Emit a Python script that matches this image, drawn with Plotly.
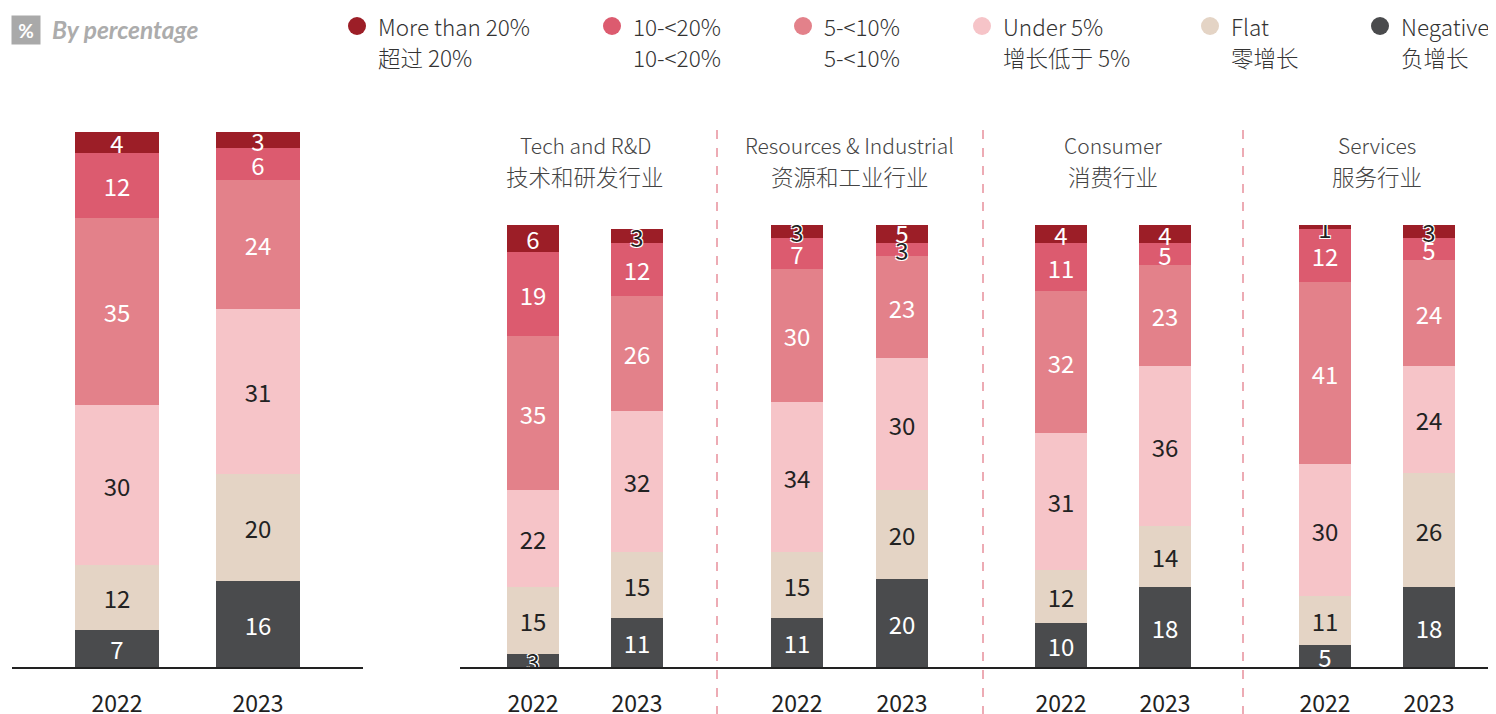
import plotly.graph_objects as go

# the page body adds an 8px margin, so coordinates below are screen pixels
OFF = 8
W, H = 1496 - OFF, 714 - OFF
FONT = "Noto Sans CJK SC"

years = ["2022", "2023"]

series_en = ["More than 20%", "10-<20%", "5-<10%", "Under 5%", "Flat", "Negative"]
series_cn = ["超过 20%", "10-<20%", "5-<10%", "增长低于 5%", "零增长", "负增长"]
series_colors = ["#9C1E27", "#DC5B6F", "#E3818A", "#F6C4C8", "#E4D4C5", "#4A4B4D"]
series_textcolors = ["white", "white", "white", "#222222", "#222222", "white"]

# overall, [2022, 2023] per growth band
overall_gt20 = [4, 3]
overall_10_20 = [12, 6]
overall_5_10 = [35, 24]
overall_under5 = [30, 31]
overall_flat = [12, 20]
overall_neg = [7, 16]

sectors_en = ["Tech and R&D", "Resources & Industrial", "Consumer", "Services"]
sectors_cn = ["技术和研发行业", "资源和工业行业", "消费行业", "服务行业"]

# per sector [2022, 2023]
sector_gt20 = [[6, 3], [3, 5], [4, 4], [1, 3]]
sector_10_20 = [[19, 12], [7, 3], [11, 5], [12, 5]]
sector_5_10 = [[35, 26], [30, 23], [32, 23], [41, 24]]
sector_under5 = [[22, 32], [34, 30], [31, 36], [30, 24]]
sector_flat = [[15, 15], [15, 20], [12, 14], [11, 26]]
sector_neg = [[3, 11], [11, 20], [10, 18], [5, 18]]

overall_vals = [overall_gt20, overall_10_20, overall_5_10, overall_under5, overall_flat, overall_neg]
sector_vals = [sector_gt20, sector_10_20, sector_5_10, sector_under5, sector_flat, sector_neg]

# layout geometry in screen pixels
left_bounds = (12, 363)
left_centers = (117, 258)
sector_bounds = [460, 717, 983, 1243, 1496]
sector_centers = [(533, 637), (797, 902), (1061, 1165), (1325, 1429)]
base_px, left_top_px, right_top_px = 667, 132, 225
legend_x = [357, 612, 803, 982, 1210, 1380]


def px(x):
    return (x - OFF) / W


def py(y):
    return 1 - (y - OFF) / H


def cat_range(a, b, c0, c1):
    s = c1 - c0
    return [(a - c0) / s, 1 + (b - c1) / s]


HALO = "1px 1px 0 white, -1px -1px 0 white, 1px -1px 0 white, -1px 1px 0 white"

fig = go.Figure()

# stacked bars, bottom band first
for i in reversed(range(6)):
    fig.add_trace(go.Bar(
        x=years, y=overall_vals[i], text=overall_vals[i],
        marker=dict(color=series_colors[i], line=dict(width=0)),
        width=0.6, xaxis="x", yaxis="y", showlegend=False,
        textposition="inside", insidetextanchor="middle", constraintext="none",
        textangle=0,
        textfont=dict(family=FONT, size=24, color=series_textcolors[i]),
        hoverinfo="skip",
    ))
    for k in range(4):
        vals = sector_vals[i][k]
        small = [v <= 3 for v in vals]
        fig.add_trace(go.Bar(
            x=years, y=vals, text=vals,
            marker=dict(color=series_colors[i], line=dict(width=0)),
            width=0.5, xaxis=f"x{k + 2}", yaxis="y2", showlegend=False,
            textposition="inside", insidetextanchor="middle", constraintext="none",
            textangle=0,
            textfont=dict(
                family=FONT, size=24,
                color=["#222222" if s else series_textcolors[i] for s in small],
                shadow=[HALO if s else "none" for s in small],
            ),
            hoverinfo="skip",
        ))

axis_common = dict(
    type="category", showline=True, linecolor="#222222", linewidth=2,
    ticks="", showgrid=False, zeroline=False, fixedrange=True, automargin=False,
    tickfont=dict(family=FONT, size=23, color="#222222"),
    ticklabelstandoff=15,
)

fig.update_layout(
    xaxis=dict(domain=[px(left_bounds[0]), px(left_bounds[1])],
               range=cat_range(*left_bounds, *left_centers), anchor="y", **axis_common),
    yaxis=dict(domain=[py(base_px), py(left_top_px)], range=[0, 100],
               visible=False, anchor="x"),
    yaxis2=dict(domain=[py(base_px), py(right_top_px)], range=[0, 100],
                visible=False, anchor="x2"),
)
for k in range(4):
    a, b = sector_bounds[k], sector_bounds[k + 1]
    fig.layout[f"xaxis{k + 2}"] = dict(
        domain=[px(a), min(px(b), 1)], range=cat_range(a, b, *sector_centers[k]),
        anchor="y2", **axis_common)

annotations = []
shapes = []
title_en_font = dict(family=FONT, size=21, color="#444444", weight=300)
title_cn_font = dict(family=FONT, size=22.5, color="#444444", weight=300)
for k in range(4):
    annotations.append(dict(
        xref=f"x{k + 2}", yref="paper", x=0.5, y=py(145), yanchor="middle",
        text=sectors_en[k], showarrow=False, font=title_en_font))
    annotations.append(dict(
        xref=f"x{k + 2}", yref="paper", x=0.5, y=py(176), yanchor="middle",
        text=sectors_cn[k], showarrow=False, font=title_cn_font))
for xb in sector_bounds[1:4]:
    shapes.append(dict(
        type="line", xref="paper", yref="paper", x0=px(xb), x1=px(xb),
        y0=py(130), y1=0, line=dict(color="#E8909C", width=1.5, dash="dash")))

# legend: round markers with two-line labels
legend_font = dict(family=FONT, size=22.5, color="#333333", weight=300)
for i in range(6):
    cx = legend_x[i]
    shapes.append(dict(
        type="circle", xref="paper", yref="paper",
        x0=px(cx - 9), x1=px(cx + 9), y0=py(35), y1=py(17),
        fillcolor=series_colors[i], line=dict(width=0)))
    annotations.append(dict(
        xref="paper", yref="paper", x=px(cx + 19), y=py(26), xanchor="left",
        yanchor="middle", text=series_en[i], showarrow=False, font=legend_font))
    annotations.append(dict(
        xref="paper", yref="paper", x=px(cx + 19), y=py(57), xanchor="left",
        yanchor="middle", text=series_cn[i], showarrow=False, font=legend_font))

annotations.append(dict(
    xref="paper", yref="paper", x=px(26), y=py(30), xanchor="center", yanchor="middle",
    text="<b>%</b>", showarrow=False, bgcolor="#A9A9A9", width=24, height=24,
    borderpad=2, font=dict(family="Lato", size=19, color="white")))
annotations.append(dict(
    xref="paper", yref="paper", x=px(50), y=py(30), xanchor="left", yanchor="middle",
    text="<b><i>By percentage</i></b>", showarrow=False,
    font=dict(family="Lato", size=24.5, color="#ACACAC")))

fig.update_layout(
    width=W, height=H, margin=dict(l=0, r=0, t=0, b=0),
    paper_bgcolor="white", plot_bgcolor="white",
    barmode="stack", bargap=0, showlegend=False,
    annotations=annotations, shapes=shapes,
)

fig.write_html("out.html")
